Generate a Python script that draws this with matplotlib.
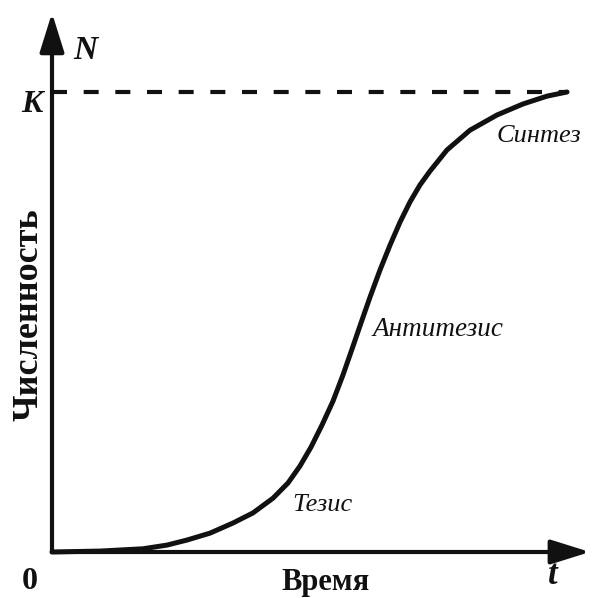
import matplotlib
matplotlib.use("Agg")
import matplotlib.pyplot as plt

# точки логистической кривой (время, численность), K = 100
t_vals = [0.00, 0.96, 1.82, 2.30, 2.70, 3.16, 3.62, 4.02, 4.42, 4.72,
          4.96, 5.18, 5.40, 5.62, 5.82, 6.00, 6.18, 6.36, 6.56, 6.76,
          6.96, 7.16, 7.36, 7.56, 7.90, 8.36, 8.90, 9.42, 9.90, 10.30]
n_vals = [0.0, 0.2, 0.7, 1.5, 2.6, 4.1, 6.3, 8.5, 11.7, 15.0,
          18.7, 22.8, 27.6, 32.8, 38.5, 44.1, 49.8, 55.4, 61.3, 66.7,
          71.7, 76.1, 79.8, 82.8, 87.4, 91.7, 95.0, 97.4, 99.1, 100.0]
K = 100
t_end = 10.30
x_tip = 10.76
y_tip = 117.2

serif = "Liberation Serif"
ink = "#111111"

fig = plt.figure(figsize=(6.03, 5.98), dpi=100)
ax = fig.add_axes([0, 0, 1, 1])
ax.set_xlim(-1.04, 11.02)
ax.set_ylim(-10, 120)
ax.axis("off")

# оси со стрелками
arrow = dict(arrowstyle="-|>,head_length=0.8,head_width=0.25", lw=3,
             color=ink, mutation_scale=30, shrinkA=0, shrinkB=0)
ax.annotate("", xy=(x_tip, 0), xytext=(0, 0), arrowprops=arrow)
ax.annotate("", xy=(0, y_tip), xytext=(0, 0), arrowprops=arrow)

# уровень K
ax.plot([0, t_end], [K, K], color=ink, lw=3.0, dashes=(3.6, 4.0))

# кривая
ax.plot(t_vals, n_vals, color=ink, lw=3.6, solid_capstyle="round",
        solid_joinstyle="round")

ax.text(0.66, 109, "N", fontsize=24, family=serif, weight="bold",
        style="italic", ha="center", va="center", color=ink)
ax.text(-0.4, 97.2, "K", fontsize=23, family=serif, weight="bold",
        style="italic", ha="center", va="center", color=ink)
ax.text(-0.44, -6.5, "0", fontsize=23, family=serif, weight="bold",
        ha="center", va="center", color=ink)
ax.text(5.46, -6.7, "Время", fontsize=22, family=serif, weight="bold",
        ha="center", va="center", color=ink)
ax.text(10.02, -5.2, "t", fontsize=25, family=serif, weight="bold",
        style="italic", ha="center", va="center", color=ink)
ax.text(-0.46, 51.5, "Численность", fontsize=26, family=serif, weight="bold",
        rotation=90, ha="center", va="center", color=ink)

ax.text(4.8, 10.2, "Тезис", fontsize=19, family=serif, style="italic",
        ha="left", va="center", color=ink)
ax.text(6.4, 48.3, "Антитезис", fontsize=19.5, family=serif, style="italic",
        ha="left", va="center", color=ink)
ax.text(8.9, 90.4, "Синтез", fontsize=19, family=serif, style="italic",
        ha="left", va="center", color=ink)

fig.savefig("out.png", dpi=100, facecolor="white")
